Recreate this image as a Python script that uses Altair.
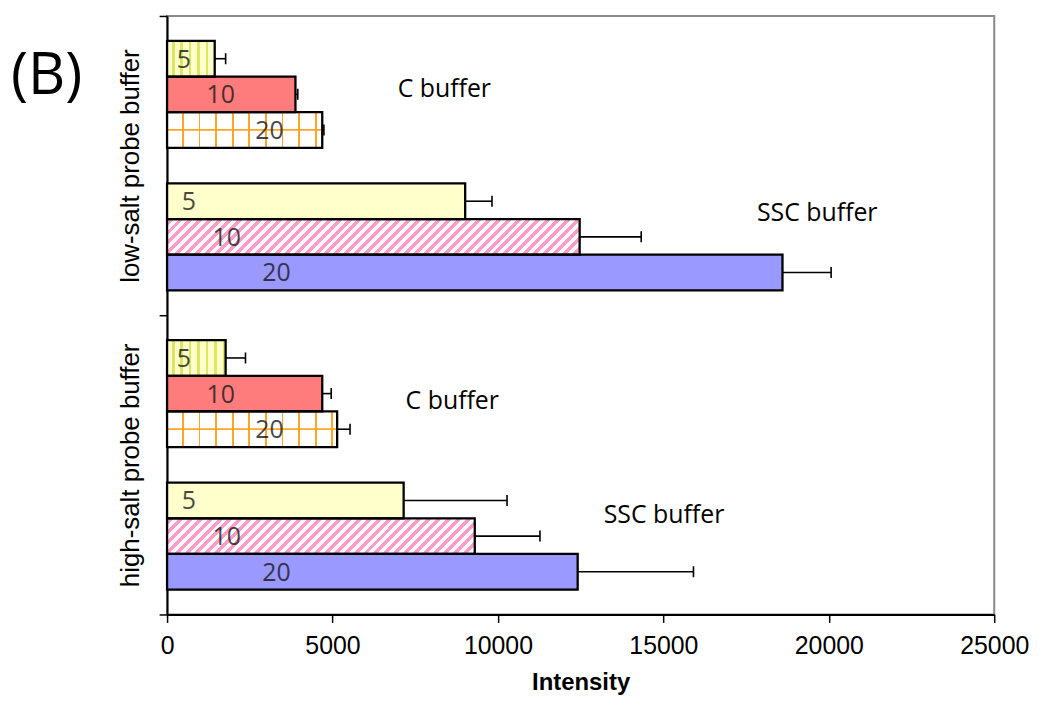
import altair as alt
import pandas as pd

# ---------------- data ----------------
probe_buffers = ["low-salt probe buffer"] * 6 + ["high-salt probe buffer"] * 6
hyb_buffers = (["C buffer"] * 3 + ["SSC buffer"] * 3) * 2
concentrations = [5, 10, 20] * 4
intensity = [1440, 3880, 4690, 9010, 12470, 18600, 1770, 4690, 5140, 7150, 9300, 12410]
errors = [330, 70, 50, 810, 1860, 1470, 600, 270, 390, 3125, 1970, 3500]

probe_order = ["low-salt probe buffer", "high-salt probe buffer"]
slot_order = ["C buffer 5", "C buffer 10", "C buffer 20", " ",
              "SSC buffer 5", "SSC buffer 10", "SSC buffer 20"]

annot_text = ["C buffer", "SSC buffer", "C buffer", "SSC buffer"]
annot_probe = ["low-salt probe buffer", "low-salt probe buffer",
               "high-salt probe buffer", "high-salt probe buffer"]
annot_slot = ["C buffer 10", "SSC buffer 5", "C buffer 10", "SSC buffer 5"]
annot_x = [8380, 19650, 8620, 15020]

panel_label = ["(B)"]
x_ticks = [0, 5000, 10000, 15000, 20000, 25000]

# ---------------- styles ----------------
W, H = 832, 602
XMAX = 25000
SUB_H = (H / 2) / (7 + 2 * 0.7)
annot_dy = [-5, 12, 7, 15]
label_px = {("C buffer", 5): 17, ("C buffer", 10): 54, ("C buffer", 20): 103,
            ("SSC buffer", 5): 22, ("SSC buffer", 10): 60, ("SSC buffer", 20): 110}

df = pd.DataFrame({
    "probe": probe_buffers, "buffer": hyb_buffers, "conc": concentrations,
    "value": intensity, "err": errors,
})
df["hi"] = df["value"] + df["err"]
df["slot"] = df["buffer"] + " " + df["conc"].astype(str)
df["idx"] = range(len(df))

adf = pd.DataFrame({"text": annot_text, "probe": annot_probe,
                    "slot": annot_slot, "ax": annot_x})
adf["idx"] = range(len(adf))
ldf = pd.DataFrame({"t": panel_label})


def r4(v):
    return round(v, 5)


def stripe_stops(length, bg, fg, period, lw, phase):
    stops = [{"offset": 0, "color": bg}]
    pos = phase
    while pos < length:
        a = r4(pos / length)
        b = r4(min((pos + lw) / length, 1))
        stops += [{"offset": a, "color": bg}, {"offset": a, "color": fg},
                  {"offset": b, "color": fg}, {"offset": b, "color": bg}]
        pos += period
    stops.append({"offset": 1, "color": bg})
    return stops


def vstripes(w, bg, fg, period, lw, phase):
    return {"gradient": "linear", "x1": 0, "y1": 0, "x2": 1, "y2": 0,
            "stops": stripe_stops(w, bg, fg, period, lw, phase)}


def dstripes(w, h, bg, fg, period, lw):
    r = h / w
    a = (1 + r) / (1 + r * r)
    return {"gradient": "linear", "x1": 0, "y1": 0, "x2": r4(a), "y2": r4(a * r),
            "stops": stripe_stops(w + h, bg, fg, period, lw, 2)}


def fill_for(buffer, conc, value):
    w = value / XMAX * W
    if buffer == "C buffer" and conc == 5:
        return vstripes(w, "#ffffcc", "#d9ea62", 8.5, 2.5, 5)
    if buffer == "C buffer" and conc == 10:
        return "#ff7c7c"
    if buffer == "C buffer" and conc == 20:
        return vstripes(w, "#ffffff", "#ffa626", 16.7, 1.9, 15)
    if buffer == "SSC buffer" and conc == 5:
        return "#ffffcc"
    if buffer == "SSC buffer" and conc == 10:
        return dstripes(w, SUB_H, "#ffffff", "#ff9ccc", 10, 5)
    return "#9999ff"


SANS = "Liberation Sans, Arial, Helvetica, sans-serif"

x_axis = alt.Axis(values=x_ticks, format="d", labelFont=SANS,
                  labelFontSize=25, labelColor="black", labelPadding=11,
                  labelFlush=False, tickSize=8, tickWidth=1.5, tickColor="black",
                  title="Intensity", titleFont=SANS, titleFontSize=24,
                  titleFontWeight="bold", titleColor="black", titlePadding=12,
                  domainColor="black", domainWidth=2, grid=False)
x_scale = alt.Scale(domain=[0, XMAX], nice=False)


def xq(field):
    return alt.X(field, type="quantitative", scale=x_scale, axis=x_axis)


y_enc = alt.Y("probe:N", sort=probe_order,
              scale=alt.Scale(domain=probe_order, paddingInner=0, paddingOuter=0),
              axis=alt.Axis(title=None, labelAngle=270, labelAlign="center",
                            labelBaseline="alphabetic", labelPadding=21, labelLimit=400,
                            labelFont=SANS, labelFontSize=26,
                            labelColor="black", tickBand="extent", tickSize=8,
                            tickWidth=1.5, tickColor="black", domainColor="black",
                            domainWidth=2, grid=False))
yoff_enc = alt.YOffset("slot:N", sort=slot_order,
                       scale=alt.Scale(domain=slot_order, paddingInner=0, paddingOuter=0.7))

base = alt.Chart(df).transform_calculate(zero="0")
layers = []

# bar fills
for i, row in df.iterrows():
    layers.append(
        base.transform_filter(alt.datum.idx == int(row["idx"]))
        .mark_bar(fill=fill_for(row["buffer"], row["conc"], row["value"]), strokeWidth=0)
        .encode(x=xq("value"), y=y_enc, yOffset=yoff_enc)
    )

# horizontal grid line of the orange grid pattern
layers.append(
    base.transform_filter((alt.datum.buffer == "C buffer") & (alt.datum.conc == 20))
    .mark_bar(color="#ffa626", height=1.8)
    .encode(x=xq("zero"), x2="value:Q", y=y_enc, yOffset=yoff_enc)
)

# bar outlines
layers.append(
    base.mark_bar(fillOpacity=0, stroke="black", strokeWidth=2.3)
    .encode(x=xq("value"), y=y_enc, yOffset=yoff_enc)
)

# error bars: whisker and cap
layers.append(
    base.mark_bar(color="black", height=1.6)
    .encode(x=xq("value"), x2="hi:Q", y=y_enc, yOffset=yoff_enc)
)
layers.append(
    base.mark_bar(fillOpacity=0, stroke="black", strokeWidth=1.6, height=11)
    .encode(x=xq("hi"), x2="hi:Q", y=y_enc, yOffset=yoff_enc)
)

# concentration labels inside bars
for (buf, conc), px in label_px.items():
    layers.append(
        base.transform_filter((alt.datum.buffer == buf) & (alt.datum.conc == conc))
        .mark_text(font="Open Sans", fontSize=25, color="#1a1a1a", opacity=0.8,
                   align="center", baseline="middle", dy=1)
        .encode(x=alt.value(px), y=y_enc, yOffset=yoff_enc, text="conc:N")
    )

# buffer annotations
abase = alt.Chart(adf)
for i in range(len(adf)):
    layers.append(
        abase.transform_filter(alt.datum.idx == i)
        .mark_text(font="Open Sans", fontSize=25, color="black", align="center",
                   baseline="middle", dy=annot_dy[i])
        .encode(x=xq("ax"), y=y_enc, yOffset=yoff_enc, text="text:N")
    )

# panel label
layers.append(
    alt.Chart(ldf).mark_text(font="Open Sans", fontSize=58, color="black",
                             align="left", baseline="alphabetic")
    .encode(x=alt.value(-157), y=alt.value(78), text="t:N")
)

chart = (
    alt.layer(*layers)
    .properties(width=W, height=H,
                padding={"left": 3, "top": 5, "right": 5, "bottom": 0})
    .configure_view(stroke="#8a8a8a", strokeWidth=2)
    .configure_axis(grid=False)
)

chart.save("out.html", embed_options={"renderer": "svg", "actions": False})
